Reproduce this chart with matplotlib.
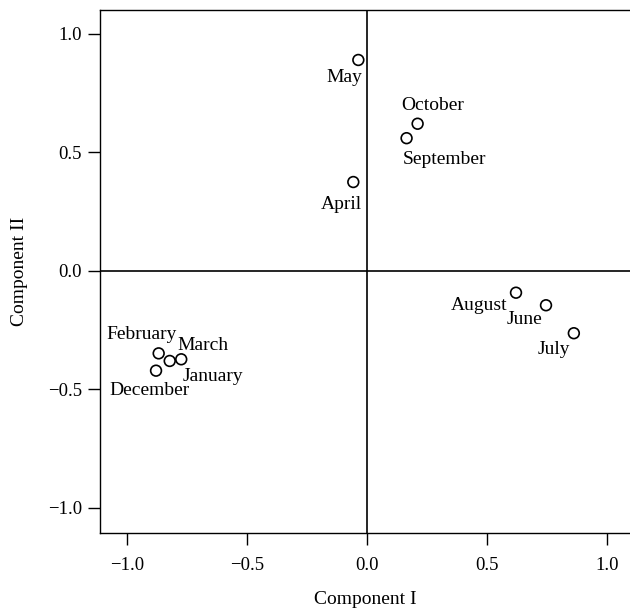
import matplotlib
matplotlib.use("Agg")
import matplotlib.pyplot as plt

months = ["May", "October", "September", "April", "August", "June", "July",
          "February", "March", "January", "December"]
comp1 = [-0.036, 0.211, 0.165, -0.057, 0.621, 0.746, 0.862,
         -0.868, -0.822, -0.774, -0.879]
comp2 = [0.889, 0.620, 0.559, 0.374, -0.093, -0.146, -0.264,
         -0.349, -0.381, -0.374, -0.422]
xticks = [-1.0, -0.5, 0.0, 0.5, 1.0]
yticks = [-1.0, -0.5, 0.0, 0.5, 1.0]

# label offsets in pixels (dx, dy, ha, va)
offsets = {
    "May": (4, -9, "right", "top"),
    "October": (-16, 10, "left", "bottom"),
    "September": (-4, -13, "left", "top"),
    "April": (9, -14, "right", "top"),
    "August": (-9, -13, "right", "center"),
    "June": (-4, -14, "right", "center"),
    "July": (-4, -16, "right", "center"),
    "February": (18, 19, "right", "center"),
    "March": (8, 15, "left", "center"),
    "January": (1, -17, "left", "center"),
    "December": (-47, -20, "left", "center"),
}

plt.rcParams["font.family"] = ["Liberation Serif", "DejaVu Serif"]
plt.rcParams["axes.unicode_minus"] = True

fig = plt.figure(figsize=(6.3, 6.09), dpi=100)
ax = fig.add_axes([100 / 630, 1 - 533 / 609, 530 / 630, (533 - 9.5) / 609])

ax.axhline(0, color="black", lw=1.2, zorder=1)
ax.axvline(0, color="black", lw=1.2, zorder=1)

ax.scatter(comp1, comp2, s=60, facecolors="none", edgecolors="black",
           linewidths=1.2, zorder=3)

for m, x, y in zip(months, comp1, comp2):
    dx, dy, ha, va = offsets[m]
    ax.annotate(m, (x, y), xytext=(dx, dy), textcoords="offset pixels",
                ha=ha, va=va, fontsize=14)

ax.set_xlim(-1.1125, 1.096)
ax.set_ylim(-1.107, 1.102)
ax.set_xticks(xticks)
ax.set_yticks(yticks)
ax.set_xticklabels([f"{v:.1f}".replace("-", "\u2212") for v in xticks])
ax.set_yticklabels([f"{v:.1f}".replace("-", "\u2212") for v in yticks])
ax.tick_params(direction="out", length=8.5, width=1, labelsize=13.5)
ax.tick_params(axis="x", pad=9)
ax.tick_params(axis="y", pad=4.5)
ax.spines["right"].set_visible(False)
for s in ["left", "top", "bottom"]:
    ax.spines[s].set_linewidth(1.0)

ax.set_xlabel("Component I", fontsize=14, labelpad=12)
ax.set_ylabel("Component II", fontsize=14, labelpad=14)

fig.savefig("out.png", dpi=100)
